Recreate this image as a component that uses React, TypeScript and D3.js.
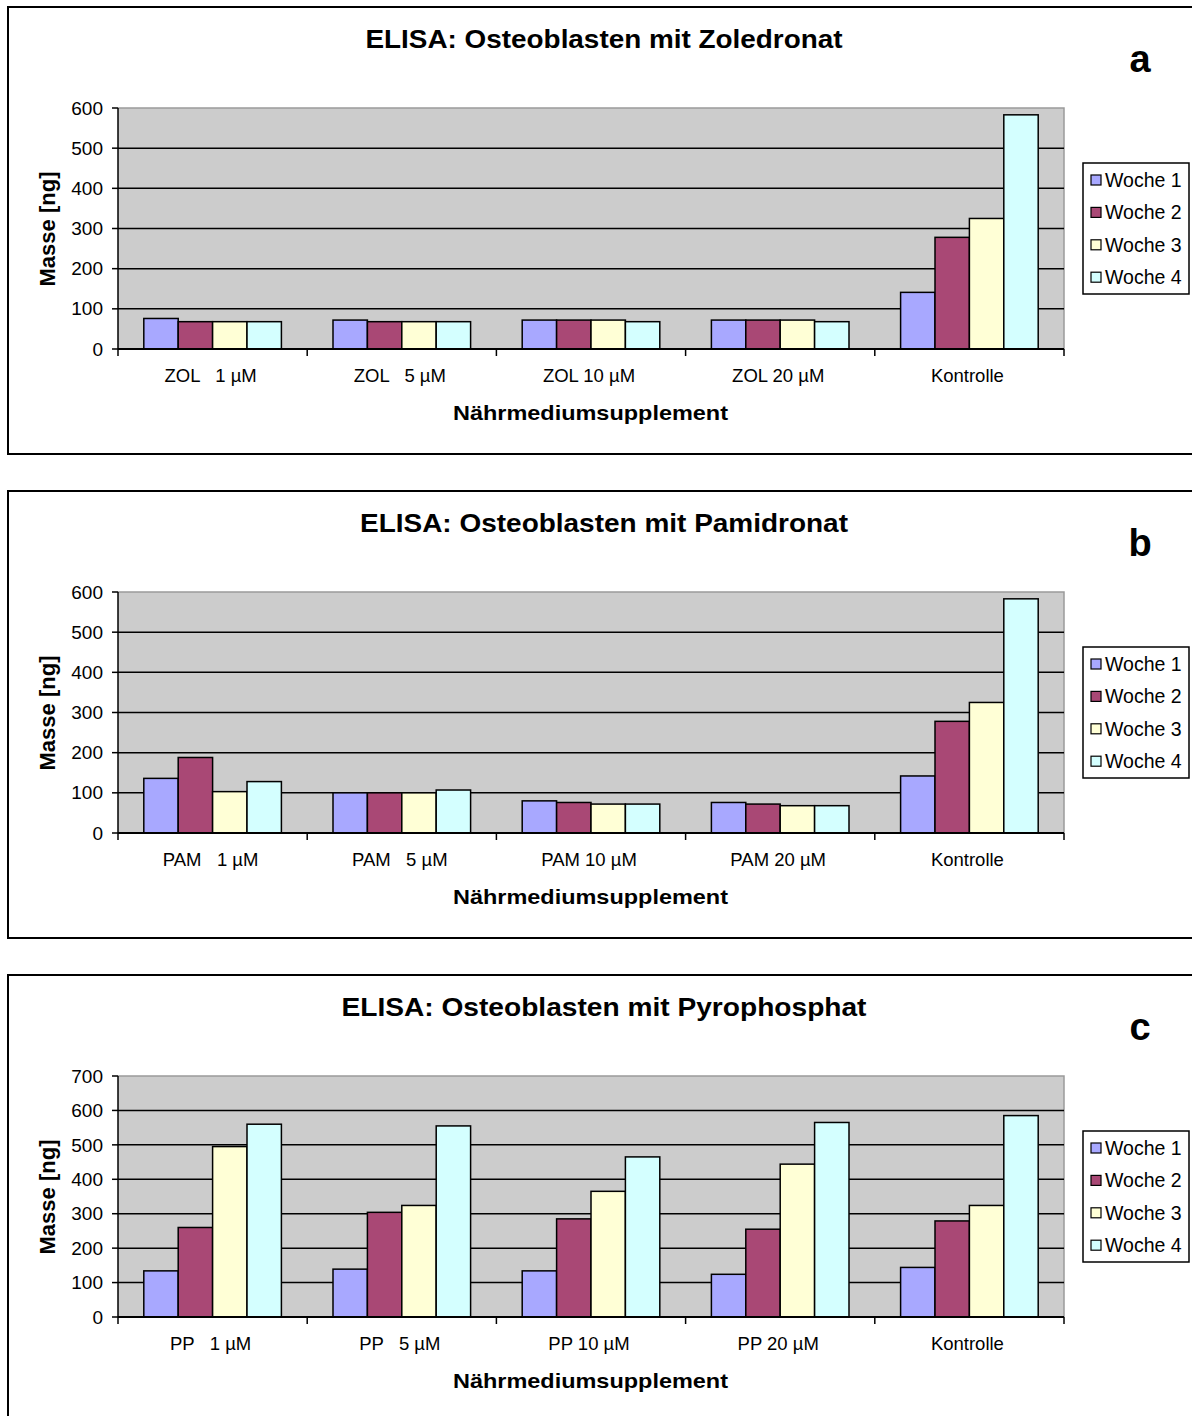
import React from "react";
import * as d3 from "d3";

const seriesNames = ["Woche 1", "Woche 2", "Woche 3", "Woche 4"];
const seriesColors = ["#a8a8ff", "#a94875", "#ffffd6", "#d4ffff"];

const zolCategories = ["ZOL   1 µM", "ZOL   5 µM", "ZOL 10 µM", "ZOL 20 µM", "Kontrolle"];
const zolW1 = [76, 72, 72, 72, 141];
const zolW2 = [68, 68, 72, 72, 278];
const zolW3 = [68, 68, 72, 72, 325];
const zolW4 = [68, 68, 68, 68, 583];
const zolTicks = [0, 100, 200, 300, 400, 500, 600];

const pamCategories = ["PAM   1 µM", "PAM   5 µM", "PAM 10 µM", "PAM 20 µM", "Kontrolle"];
const pamW1 = [136, 100, 80, 76, 142];
const pamW2 = [188, 100, 76, 72, 278];
const pamW3 = [103, 100, 72, 68, 325];
const pamW4 = [128, 107, 72, 68, 583];
const pamTicks = [0, 100, 200, 300, 400, 500, 600];

const ppCategories = ["PP   1 µM", "PP   5 µM", "PP 10 µM", "PP 20 µM", "Kontrolle"];
const ppW1 = [134, 139, 134, 124, 144];
const ppW2 = [260, 304, 285, 255, 279];
const ppW3 = [495, 324, 365, 444, 324];
const ppW4 = [560, 555, 465, 565, 585];
const ppTicks = [0, 100, 200, 300, 400, 500, 600, 700];

const panels = [
  { top: 7, title: "ELISA: Osteoblasten mit Zoledronat", titleLen: 477, letter: "a", categories: zolCategories, series: [zolW1, zolW2, zolW3, zolW4], ticks: zolTicks, bottomBorder: true },
  { top: 491, title: "ELISA: Osteoblasten mit Pamidronat", titleLen: 488, letter: "b", categories: pamCategories, series: [pamW1, pamW2, pamW3, pamW4], ticks: pamTicks, bottomBorder: true },
  { top: 975, title: "ELISA: Osteoblasten mit Pyrophosphat", titleLen: 525, letter: "c", categories: ppCategories, series: [ppW1, ppW2, ppW3, ppW4], ticks: ppTicks, bottomBorder: false },
];

const FONT = "'Liberation Sans', Arial, Helvetica, sans-serif";
const PLOT_LEFT = 118;
const PLOT_RIGHT = 1064;

function Panel({ p }: { p: (typeof panels)[number] }) {
  const top = p.top;
  const plotTop = top + 101;
  const plotBottom = top + 342;
  const maxV = p.ticks[p.ticks.length - 1];
  const x = d3.scaleBand<string>().domain(p.categories).range([PLOT_LEFT, PLOT_RIGHT]).padding(0);
  const xs = d3.scaleBand<string>().domain(seriesNames).range([0, x.bandwidth()]).paddingInner(0).paddingOuter(0.75);
  const y = d3.scaleLinear().domain([0, maxV]).range([plotBottom, plotTop]);
  const tickXs = p.categories.map((c) => x(c) as number).concat([PLOT_RIGHT]);

  return (
    <g>
      <path
        d={p.bottomBorder ? `M1200,${top} H8 V${top + 447} H1200` : `M1200,${top} H8 V1430`}
        fill="none"
        stroke="#000"
        strokeWidth={2}
      />
      <text
        x={604 - p.titleLen / 2}
        y={top + 41}
        textLength={p.titleLen}
        lengthAdjust="spacingAndGlyphs"
        fontFamily={FONT}
        fontWeight="bold"
        fontSize={26}
        fill="#000"
      >
        {p.title}
      </text>
      <text x={1140} y={top + 65} textAnchor="middle" fontFamily={FONT} fontWeight="bold" fontSize={38} fill="#000">
        {p.letter}
      </text>

      <rect x={PLOT_LEFT} y={plotTop} width={PLOT_RIGHT - PLOT_LEFT} height={plotBottom - plotTop} fill="#cccccc" />
      <path d={`M${PLOT_LEFT},${plotTop} H${PLOT_RIGHT} V${plotBottom}`} fill="none" stroke="#9a9a9a" strokeWidth={1.5} />
      {p.ticks.slice(1, -1).map((t) => (
        <line key={t} x1={PLOT_LEFT} x2={PLOT_RIGHT} y1={y(t)} y2={y(t)} stroke="#000" strokeWidth={1.5} />
      ))}

      {p.series.map((vals, si) =>
        vals.map((v, ci) => {
          const bx = (x(p.categories[ci]) as number) + (xs(seriesNames[si]) as number);
          return (
            <rect
              key={`${si}-${ci}`}
              x={bx}
              y={y(v)}
              width={xs.bandwidth()}
              height={plotBottom - y(v)}
              fill={seriesColors[si]}
              stroke="#000"
              strokeWidth={1.5}
            />
          );
        })
      )}

      <line x1={PLOT_LEFT} x2={PLOT_LEFT} y1={plotTop} y2={plotBottom} stroke="#000" strokeWidth={1.5} />
      <line x1={PLOT_LEFT} x2={PLOT_RIGHT} y1={plotBottom} y2={plotBottom} stroke="#000" strokeWidth={2} />
      {p.ticks.map((t) => (
        <g key={t}>
          <line x1={PLOT_LEFT - 6} x2={PLOT_LEFT} y1={y(t)} y2={y(t)} stroke="#000" strokeWidth={1.5} />
          <text x={103} y={y(t)} dy="0.35em" textAnchor="end" fontFamily={FONT} fontSize={19} fill="#000">
            {t}
          </text>
        </g>
      ))}
      {tickXs.map((tx, i) => (
        <line key={i} x1={tx} x2={tx} y1={plotBottom} y2={plotBottom + 7} stroke="#000" strokeWidth={1.5} />
      ))}
      {p.categories.map((c) => (
        <text
          key={c}
          x={(x(c) as number) + x.bandwidth() / 2 - 2}
          y={top + 369}
          dy="0.35em"
          textAnchor="middle"
          fontFamily={FONT}
          fontSize={18.5}
          fill="#000"
          style={{ whiteSpace: "pre" }}
        >
          {c}
        </text>
      ))}
      <text
        x={453}
        y={top + 406}
        dy="0.35em"
        textLength={275}
        lengthAdjust="spacingAndGlyphs"
        fontFamily={FONT}
        fontWeight="bold"
        fontSize={21}
        fill="#000"
      >
        Nährmediumsupplement
      </text>
      <text
        transform={`translate(47,${top + 222}) rotate(-90)`}
        dy="0.35em"
        textAnchor="middle"
        fontFamily={FONT}
        fontWeight="bold"
        fontSize={22}
        fill="#000"
      >
        Masse [ng]
      </text>

      <rect x={1083} y={top + 156} width={106} height={131} fill="#fff" stroke="#000" strokeWidth={1.5} />
      {seriesNames.map((s, i) => {
        const ly = top + 173 + i * 32.4;
        return (
          <g key={s}>
            <rect x={1091} y={ly - 5} width={10} height={10} fill={seriesColors[i]} stroke="#000" strokeWidth={1.2} />
            <text x={1105} y={ly} dy="0.35em" fontFamily={FONT} fontSize={19.5} fill="#000">
              {s}
            </text>
          </g>
        );
      })}
    </g>
  );
}

export default function App() {
  return (
    <svg width={1192} height={1416} viewBox="0 0 1192 1416" style={{ position: "absolute", left: 0, top: 0, background: "#fff" }}>
      <rect x={0} y={0} width={1192} height={1416} fill="#fff" />
      {panels.map((p) => (
        <Panel key={p.letter} p={p} />
      ))}
    </svg>
  );
}
